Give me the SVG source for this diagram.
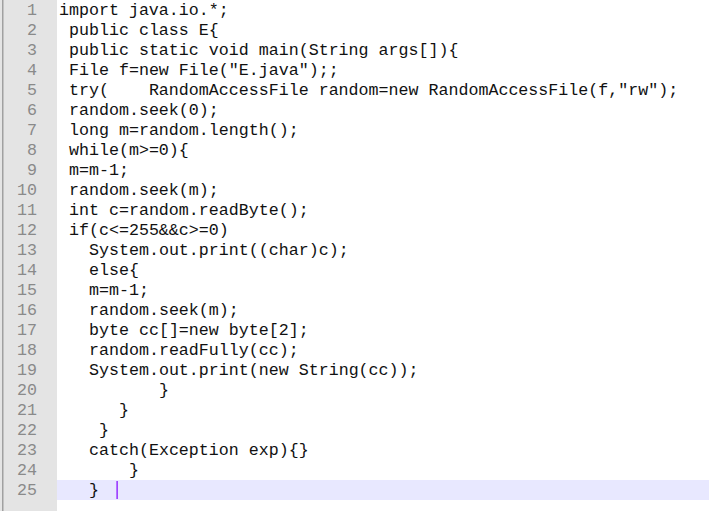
<svg xmlns="http://www.w3.org/2000/svg" width="709" height="511" viewBox="0 0 709 511">
<style>
.code{font-family:"Liberation Mono","Courier New",monospace;font-size:16.65px;fill:#111;white-space:pre}
.num{font-family:"Liberation Mono","Courier New",monospace;font-size:16.65px;fill:#8a8a8a;text-anchor:end}
</style>
<rect x="0" y="0" width="709" height="511" fill="#ffffff"/>
<g id="gutter">
<rect x="0" y="0" width="57" height="511" fill="#e4e4e4"/>
<rect x="2" y="0" width="1.5" height="511" fill="#a0a0a0"/>
</g>
<rect id="current-line" x="57" y="480" width="652" height="20" fill="#e8e8ff"/>
<g id="line-numbers">
<text class="num" x="37" y="15">1</text>
<text class="num" x="37" y="35">2</text>
<text class="num" x="37" y="55">3</text>
<text class="num" x="37" y="75">4</text>
<text class="num" x="37" y="95">5</text>
<text class="num" x="37" y="115">6</text>
<text class="num" x="37" y="135">7</text>
<text class="num" x="37" y="155">8</text>
<text class="num" x="37" y="175">9</text>
<text class="num" x="37" y="195">10</text>
<text class="num" x="37" y="215">11</text>
<text class="num" x="37" y="235">12</text>
<text class="num" x="37" y="255">13</text>
<text class="num" x="37" y="275">14</text>
<text class="num" x="37" y="295">15</text>
<text class="num" x="37" y="315">16</text>
<text class="num" x="37" y="335">17</text>
<text class="num" x="37" y="355">18</text>
<text class="num" x="37" y="375">19</text>
<text class="num" x="37" y="395">20</text>
<text class="num" x="37" y="415">21</text>
<text class="num" x="37" y="435">22</text>
<text class="num" x="37" y="455">23</text>
<text class="num" x="37" y="475">24</text>
<text class="num" x="37" y="495">25</text>
</g>
<g id="code" xml:space="preserve">
<text class="code" x="59" y="15">import java.io.*;</text>
<text class="code" x="69" y="35">public class E{</text>
<text class="code" x="69" y="55">public static void main(String args[]){</text>
<text class="code" x="69" y="75">File f=new File("E.java");;</text>
<text class="code" x="69" y="95">try(    RandomAccessFile random=new RandomAccessFile(f,"rw");</text>
<text class="code" x="69" y="115">random.seek(0);</text>
<text class="code" x="69" y="135">long m=random.length();</text>
<text class="code" x="69" y="155">while(m&gt;=0){</text>
<text class="code" x="69" y="175">m=m-1;</text>
<text class="code" x="69" y="195">random.seek(m);</text>
<text class="code" x="69" y="215">int c=random.readByte();</text>
<text class="code" x="69" y="235">if(c&lt;=255&amp;&amp;c&gt;=0)</text>
<text class="code" x="89" y="255">System.out.print((char)c);</text>
<text class="code" x="89" y="275">else{</text>
<text class="code" x="89" y="295">m=m-1;</text>
<text class="code" x="89" y="315">random.seek(m);</text>
<text class="code" x="89" y="335">byte cc[]=new byte[2];</text>
<text class="code" x="89" y="355">random.readFully(cc);</text>
<text class="code" x="89" y="375">System.out.print(new String(cc));</text>
<text class="code" x="159" y="395">}</text>
<text class="code" x="119" y="415">}</text>
<text class="code" x="99" y="435">}</text>
<text class="code" x="89" y="455">catch(Exception exp){}</text>
<text class="code" x="129" y="475">}</text>
<text class="code" x="89" y="495">}</text>
</g>
<rect id="cursor" x="116.5" y="481" width="1.2" height="18" fill="#8000ff"/>
</svg>
